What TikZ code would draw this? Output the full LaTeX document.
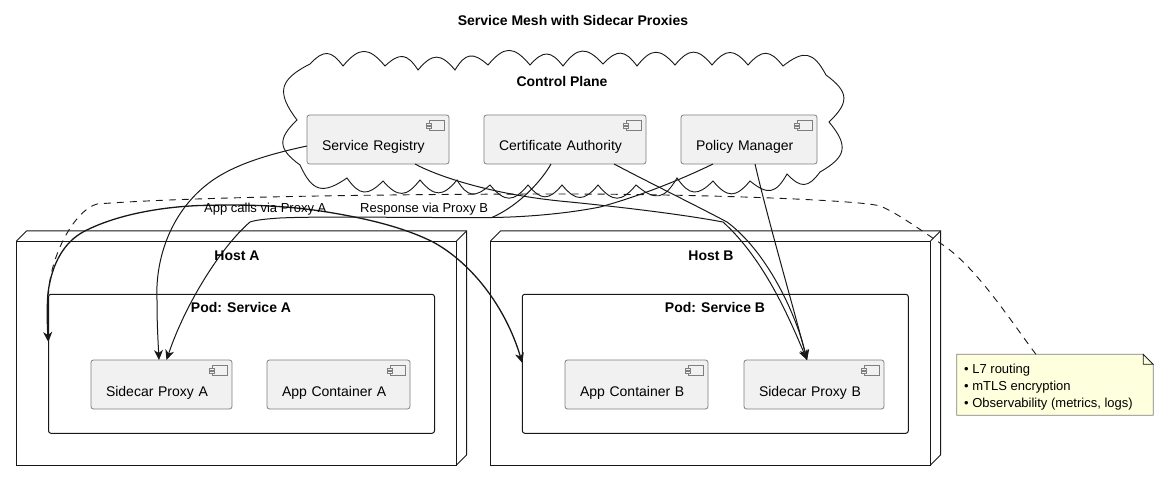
\documentclass[tikz,border=0pt]{standalone}
\usepackage{fontspec}
\setmainfont{Liberation Sans}
\usetikzlibrary{arrows.meta}
\definecolor{inkc}{HTML}{181818}
\definecolor{compfill}{HTML}{F1F1F1}
\definecolor{compline}{HTML}{7F7F7F}
\definecolor{notefill}{HTML}{FEFFDD}
\tikzset{
  titletext/.style={font=\fontsize{14}{17}\selectfont\bfseries,anchor=base,inner sep=0pt,text=black},
  edgetext/.style={font=\fontsize{13}{16}\selectfont,anchor=base west,inner sep=0pt,text=black},
  comp/.style={draw=compline,fill=compfill,line width=0.8pt,rounded corners=2.5pt,anchor=north west,outer sep=0pt,
    text width=#1-30pt,inner xsep=15pt,inner ysep=0pt,text height=36pt,text depth=13pt,align=left,
    font=\fontsize{14}{17}\selectfont,text=black},
  hostfront/.style={draw=inkc,line width=1pt,anchor=north west,inner sep=0pt,outer sep=0pt},
  hostline/.style={draw=inkc,line width=1pt},
  podbox/.style={draw=inkc,line width=1pt,rounded corners=2.5pt,anchor=north west,inner sep=0pt,outer sep=0pt},
  cloudline/.style={draw=inkc,line width=0.9pt,bend left=50,looseness=1.55},
  link/.style={draw=inkc,line width=1pt,-{Stealth[length=10pt,width=9pt,inset=3pt]}},
  boldlink/.style={draw=inkc,line width=1.3pt,{Stealth[length=10pt,width=9pt,inset=3pt]}-{Stealth[length=10pt,width=9pt,inset=3pt]}},
  plainlink/.style={draw=inkc,line width=1pt},
  notelink/.style={draw=inkc,line width=0.9pt,dash pattern=on 7pt off 6pt},
  notebox/.style={anchor=north west,minimum width=196.5pt,minimum height=61pt,inner sep=0pt,outer sep=0pt},
  compicon/.pic={
    \draw[compline,line width=0.7pt,fill=compfill] (-20,5.5) rectangle (-5,15.5);
    \draw[compline,line width=0.7pt,fill=compfill] (-22.5,8) rectangle (-18,10.2);
    \draw[compline,line width=0.7pt,fill=compfill] (-22.5,11.2) rectangle (-18,13.4);
  }
}
\begin{document}
\begin{tikzpicture}[x=1pt,y=-1pt]
\useasboundingbox[fill=white] (0,0) rectangle (1159,481);

\node[titletext] (title) at (573,25.5) {Service Mesh with Sidecar Proxies};

% cloud
\draw[cloudline] (310,64) to (343,66) to (385,66) to (418,70) to (455,70) to (488,65) to (530,65) to (563,66)
  to (603,64) to (637,66) to (675,65) to (712,65) to (748,65) to (783,66) to (826,75)
  to (829,122) to (820,172) to (787,174) to (750,181) to (713,181) to (677,178) to (636,185)
  to (598,185) to (562,185) to (528,185) to (490,185) to (457,180) to (420,180) to (383,181)
  to (347,178) to (300,165) to (297,120) to (310,64);
\node[titletext] (cptitle) at (562,86.5) {Control Plane};

% hosts
\node[hostfront,minimum width=440pt,minimum height=224pt] (hosta) at (16.5,241) {};
\draw[hostline] (hosta.north west) -- ++(10,-10) -- ++(440,0) -- ++(0,224) -- (hosta.south east);
\draw[hostline] (hosta.north east) -- ++(10,-10);
\node[titletext] (hostatitle) at (237,260) {Host A};

\node[hostfront,minimum width=440pt,minimum height=224pt] (hostb) at (490.5,241) {};
\draw[hostline] (hostb.north west) -- ++(10,-10) -- ++(440,0) -- ++(0,224) -- (hostb.south east);
\draw[hostline] (hostb.north east) -- ++(10,-10);
\node[titletext] (hostbtitle) at (711,260) {Host B};

% pods
\node[podbox,minimum width=386pt,minimum height=139pt] (poda) at (48.5,294.3) {};
\node[titletext] (podatitle) at (241,312) {Pod: Service A};
\node[podbox,minimum width=386pt,minimum height=139pt] (podb) at (522.3,294.3) {};
\node[titletext] (podbtitle) at (715,312) {Pod: Service B};

% components
\node[comp=142pt] (sr) at (307,115) {Service Registry};
\node[comp=162pt] (ca) at (484,115) {Certificate Authority};
\node[comp=136pt] (pm) at (681,115) {Policy Manager};
\node[comp=141pt] (spa) at (91,360) {Sidecar Proxy A};
\node[comp=143pt] (aca) at (267,360) {App Container A};
\node[comp=143pt] (acb) at (565,360) {App Container B};
\node[comp=140pt] (spb) at (744,360) {Sidecar Proxy B};
\foreach \n in {sr,ca,pm,spa,aca,acb,spb} \pic at (\n.north east) {compicon};

% note
\node[notebox] (note) at (956.7,354.3) {};
\fill[notefill] (note.north west) -- ([xshift=-10pt]note.north east) -- ([yshift=-10pt]note.north east) -- (note.south east) -- (note.south west) -- cycle;
\draw[compline,line width=0.8pt] (note.north west) -- ([xshift=-10pt]note.north east) -- ([yshift=-10pt]note.north east) -- (note.south east) -- (note.south west) -- cycle;
\draw[inkc,line width=0.8pt] ([xshift=-10pt]note.north east) -- ([xshift=-10pt,yshift=-10pt]note.north east) -- ([yshift=-10pt]note.north east) -- cycle;
\node[anchor=north west,inner sep=0pt,align=left,font=\fontsize{13}{17}\selectfont,text=black] (notetext) at (964,364) {• L7 routing\\• mTLS encryption\\• Observability (metrics, logs)};

% note link
\draw[notelink] ([xshift=-19pt]note.north) .. controls (1010,320) and (975,265) .. (940,243)
  .. controls (915,226) and (895,212) .. (880,206)
  .. controls (860,200) and (700,194) .. (560,194)
  .. controls (430,194) and (200,196) .. (97,204)
  .. controls (75,210) and (50,255) .. (poda.north west);

% edges
\draw[link] ([yshift=-6.5pt]sr.west) .. controls (265,155) and (235,165) .. (213,180)
  .. controls (170,210) and (155,260) .. (157,300) .. controls (157,325) and (158,340) .. ([xshift=-2.5pt]spa.north);
\draw[link] ([xshift=-36pt]pm.south) .. controls (680,180) and (640,196) .. (600,207)
  .. controls (570,213) and (530,217) .. (492,217.5)
  .. controls (420,218) and (320,216) .. (280,218) .. controls (265,219) and (256,220) .. (250,222)
  .. controls (220,248) and (185,305) .. ([xshift=5pt]spa.north);
\draw[plainlink] ([xshift=-14pt]ca.south) .. controls (542,180) and (520,205) .. (492,217.5);
\draw[link] ([xshift=-34pt]sr.south east) .. controls (435,175) and (490,195) .. (570,202)
  .. controls (620,207) and (680,214) .. (723,222) .. controls (765,260) and (790,320) .. ([xshift=-7pt]spb.north);
\draw[link] ([xshift=49pt]ca.south) .. controls (650,183) and (695,205) .. (727,222)
  .. controls (765,250) and (795,310) .. ([xshift=-7pt]spb.north);
\draw[link] ([xshift=6pt]pm.south) .. controls (768,220) and (790,295) .. ([xshift=-7pt]spb.north);
\draw[boldlink] (48.3,342) .. controls (47,320) and (47,305) .. (48,293)
  .. controls (52,262) and (65,242) .. (83,232) .. controls (115,215) and (160,207) .. (200,205.5)
  .. controls (250,204) and (290,206) .. (327,212) .. controls (370,219) and (405,228) .. (433,242)
  .. controls (470,262) and (505,305) .. (522.3,363);

\node[edgetext] (ltop) at (204,212) {App calls via Proxy A};
\node[edgetext] (lbot) at (360,212) {Response via Proxy B};
\end{tikzpicture}
\end{document}
